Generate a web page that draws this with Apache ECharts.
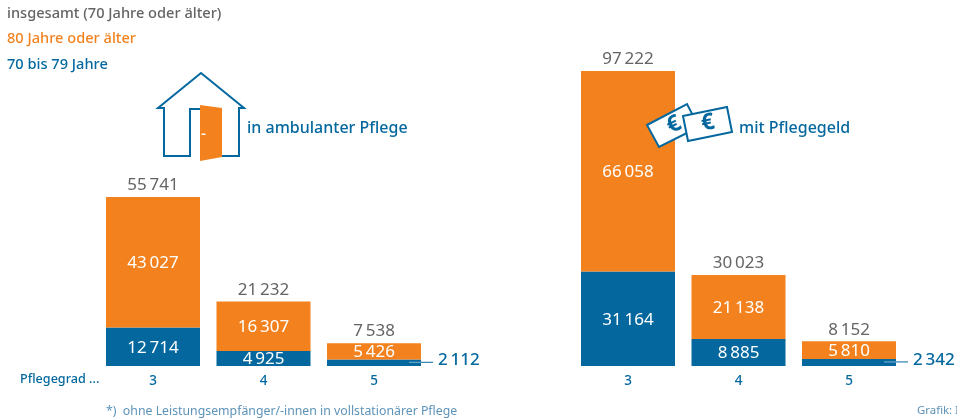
<!DOCTYPE html>
<html><head><meta charset="utf-8">
<style>html,body{margin:0;padding:0;background:#fff;overflow:hidden}#c{width:957px;height:420px}</style>
<script src="https://cdn.jsdelivr.net/npm/echarts@6/dist/echarts.min.js"></script>
</head><body><div id="c"></div>
<script>
const categories = ['3','4','5'];
const ambulantOld = [43027,16307,5426];
const ambulantYoung = [12714,4925,2112];
const ambulantTotal = [55741,21232,7538];
const geldOld = [66058,21138,5810];
const geldYoung = [31164,8885,2342];
const geldTotal = [97222,30023,8152];

const BLUE='#04689f', ORANGE='#f3821e', GREY='#646464';
const FONT='"Noto Sans"';
const fmt=v=>String(v).replace(/\B(?=(\d{3})+$)/g,'\u2009');

function seriesFor(idx,young,old,total){
  const inside=()=>({show:true,position:'inside',offset:[0,1],color:'#fff',fontSize:17,fontFamily:FONT,formatter:p=>fmt(p.value)});
  return [
    {type:'bar',xAxisIndex:idx,yAxisIndex:idx,stack:'s'+idx,barWidth:94,data:young.map((v,i)=>({value:v,label:{show:i<2}})),
      itemStyle:{color:BLUE},label:inside(),emphasis:{disabled:true}},
    {type:'bar',xAxisIndex:idx,yAxisIndex:idx,stack:'s'+idx,barWidth:94,data:old,
      itemStyle:{color:ORANGE},label:inside(),emphasis:{disabled:true}},
    {type:'bar',xAxisIndex:idx,yAxisIndex:idx,stack:'s'+idx,barWidth:94,data:total.map(()=>0),
      itemStyle:{color:'transparent'},emphasis:{disabled:true},
      label:{show:true,position:'top',distance:3,color:GREY,fontSize:17,fontFamily:FONT,formatter:p=>fmt(total[p.dataIndex])}},
    {type:'custom',xAxisIndex:idx,yAxisIndex:idx,data:[[2,young[2]]],z:5,silent:true,
      renderItem:(params,api)=>{
        const p=api.coord([api.value(0),api.value(1)*0.5]);
        const yl=p[1]-0.5;
        return {type:'group',children:[
          {type:'line',shape:{x1:p[0]+35,y1:yl,x2:p[0]+47,y2:yl},style:{stroke:'#7fb2d0',lineWidth:1}},
          {type:'line',shape:{x1:p[0]+47,y1:yl,x2:p[0]+59,y2:yl},style:{stroke:BLUE,lineWidth:1}},
          {type:'text',x:p[0]+64,y:yl-2,style:{text:fmt(api.value(1)),fill:BLUE,fontSize:17,fontFamily:FONT,fontWeight:500,align:'left',verticalAlign:'middle'}}
        ]};
      }}
  ];
}
const axisX=(i)=>({type:'category',gridIndex:i,data:categories,axisLine:{show:false},axisTick:{show:false},
  axisLabel:{color:BLUE,fontSize:13.5,fontWeight:500,fontFamily:FONT,margin:8}});
const axisY=(i)=>({type:'value',gridIndex:i,min:0,max:100000,show:false,splitLine:{show:false}});

const legend=(y,text,color)=>({type:'text',left:7,top:y,style:{text,fill:color,fontSize:14.6,fontWeight:500,fontFamily:FONT}});
const stroke={stroke:BLUE,lineWidth:2,fill:'#fff'};

const option={
  animation:false,
  grid:[{left:97.75,width:331.5,top:62.6,height:303.4},{left:572.75,width:331.5,top:62.6,height:303.4}],
  xAxis:[axisX(0),axisX(1)],
  yAxis:[axisY(0),axisY(1)],
  series:[...seriesFor(0,ambulantYoung,ambulantOld,ambulantTotal),...seriesFor(1,geldYoung,geldOld,geldTotal)],
  graphic:[
    legend(6,'insgesamt (70 Jahre oder älter)',GREY),
    legend(31,'80 Jahre oder älter',ORANGE),
    legend(57,'70 bis 79 Jahre',BLUE),
    {type:'text',left:20,top:373,style:{text:'Pflegegrad ...',fill:BLUE,fontSize:12.6,fontWeight:500,fontFamily:FONT}},
    {type:'text',left:106,top:405,style:{text:'*)  ohne Leistungsempfänger/-innen in vollstationärer Pflege',fill:'#5d93b8',fontSize:12.3,fontFamily:FONT}},
    {type:'text',left:917,top:405,style:{text:'Grafik: I',fill:'#5d93b8',fontSize:11.4,fontFamily:FONT}},
    {type:'text',left:247,top:120,style:{text:'in ambulanter Pflege',fill:BLUE,fontSize:16,fontWeight:500,fontFamily:FONT}},
    {type:'text',left:739,top:120,style:{text:'mit Pflegegeld',fill:BLUE,fontSize:16,fontWeight:500,fontFamily:FONT}},
    {type:'polyline',z:10,shape:{points:[[200,109],[190,109],[190,156],[164,156],[164,108],[158,108],[201,73],[244,108],[239,108],[239,156],[222,156]]},style:{stroke:BLUE,lineWidth:2,fill:'#fff'}},
    {type:'polygon',z:11,shape:{points:[[200,105],[222,108],[222,157],[200,161]]},style:{fill:ORANGE}},
    {type:'rect',z:12,shape:{x:201.5,y:133.5,width:4,height:1.5},style:{fill:'#fff'}},
    {type:'polygon',z:10,shape:{points:[[647,125],[687,104],[699,127],[659,147]]},style:stroke},
    {type:'text',z:11,x:674,y:125,rotation:0.46,style:{text:'€',fill:BLUE,fontSize:23,fontWeight:700,fontFamily:FONT,align:'center',verticalAlign:'middle'}},
    {type:'polygon',z:12,shape:{points:[[683,116],[727,107],[732,132],[688,141]]},style:stroke},
    {type:'text',z:13,x:708,y:123,rotation:0.2,style:{text:'€',fill:BLUE,fontSize:23,fontWeight:700,fontFamily:FONT,align:'center',verticalAlign:'middle'}}
  ]
};
echarts.init(document.getElementById('c'),null,{renderer:'canvas'}).setOption(option);
</script></body></html>
